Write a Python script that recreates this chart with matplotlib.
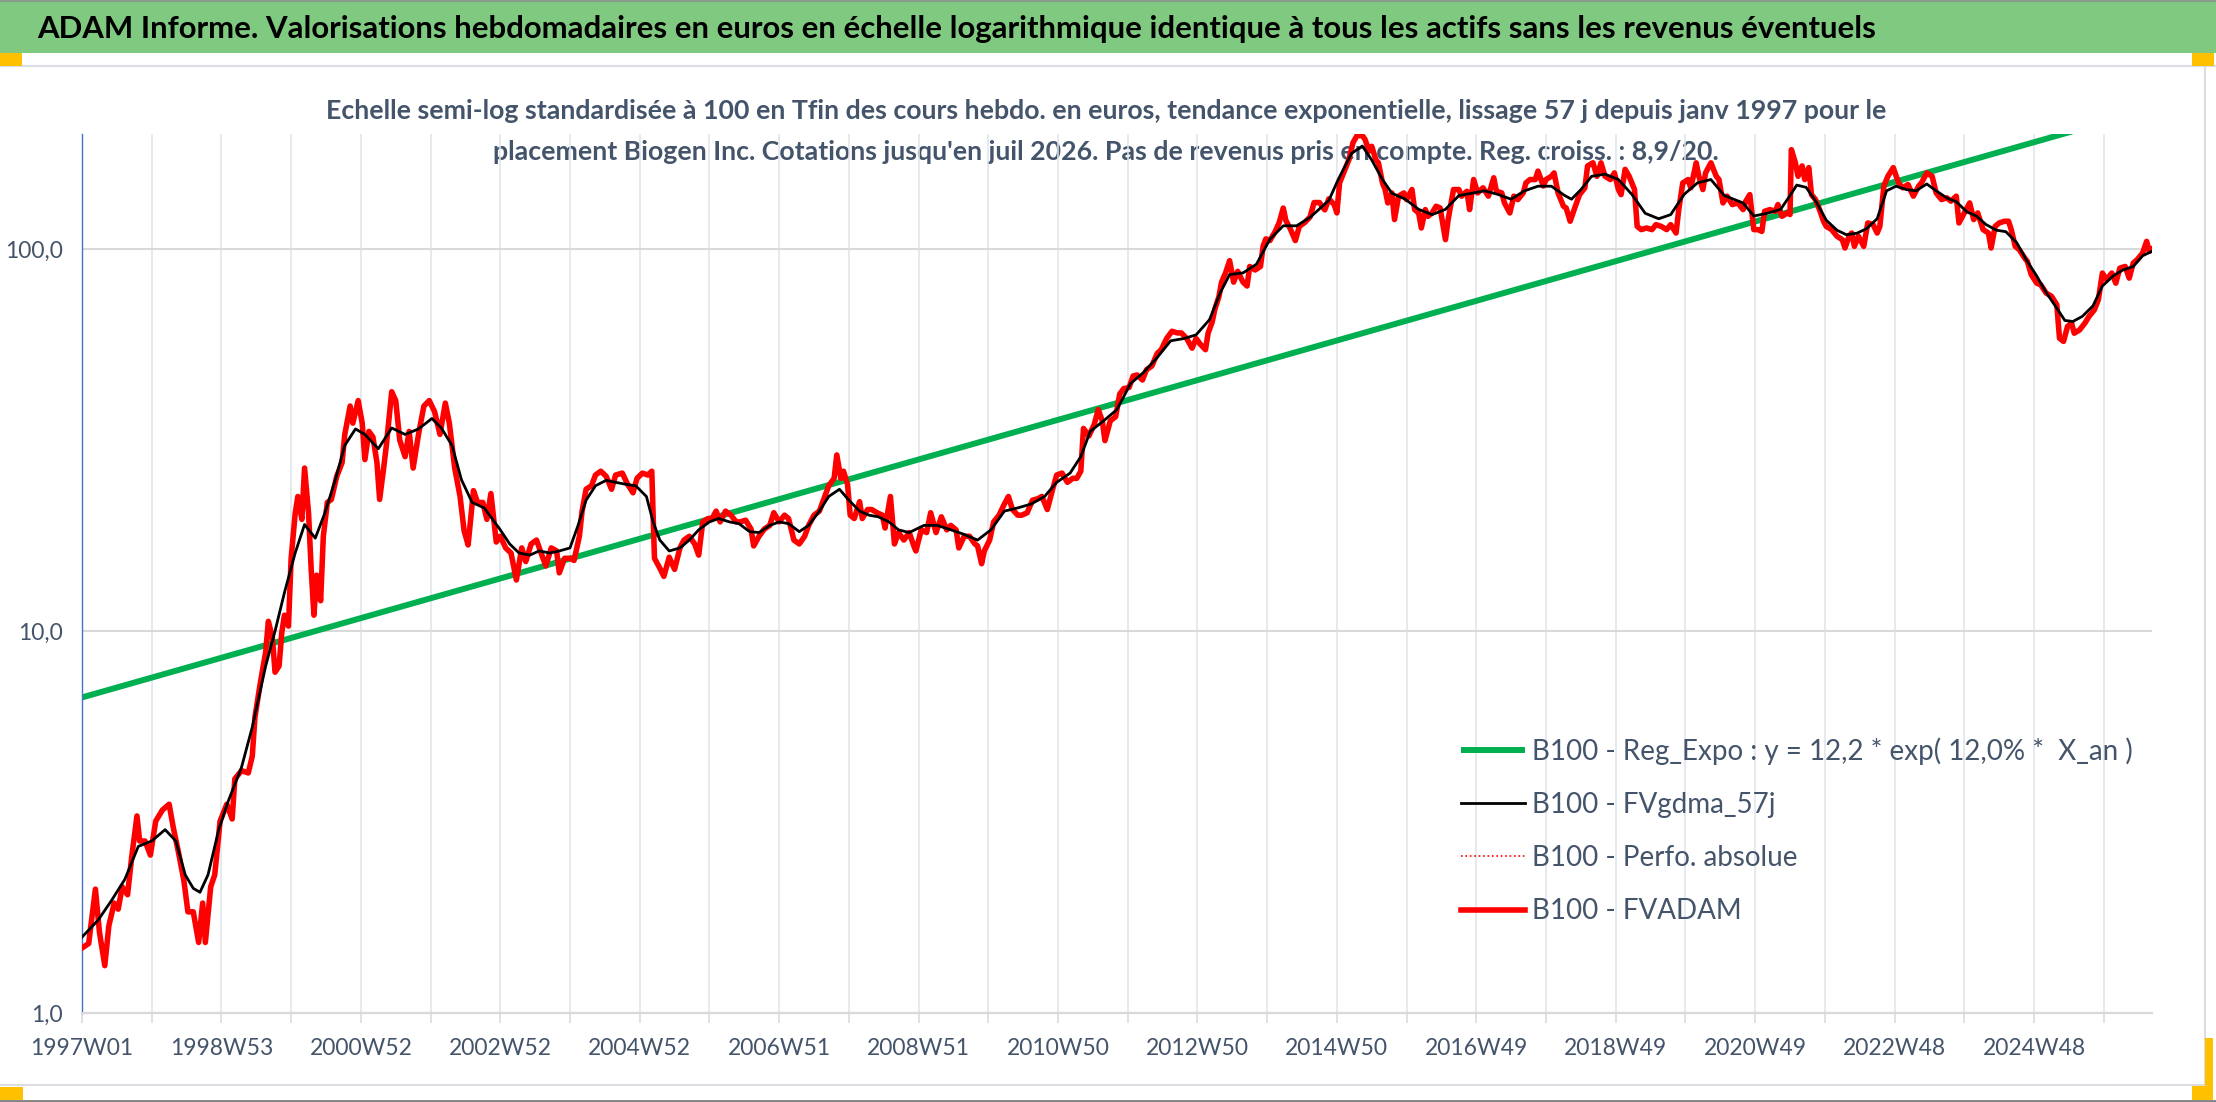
import matplotlib
matplotlib.use('Agg')
import matplotlib.pyplot as plt
from matplotlib.patches import Rectangle
from matplotlib.lines import Line2D

# --- CONFIGURATION ---
W, H = 2216, 1102
plt.rcParams['font.family'] = ['Lato', 'DejaVu Sans']

TITRE = ("ADAM Informe. Valorisations hebdomadaires en euros en échelle logarithmique "
         "identique à tous les actifs sans les revenus éventuels")
SOUS_TITRE_1 = ("Echelle semi-log standardisée à 100 en Tfin des cours hebdo. en euros, "
                "tendance exponentielle, lissage 57 j depuis janv 1997 pour le")
SOUS_TITRE_2 = ("placement Biogen Inc. Cotations jusqu'en juil 2026. Pas de revenus pris "
                "en compte. Reg. croiss. : 8,9/20.")

# --- DONNEES ---
# etiquettes de l'axe des categories (une toutes les 104 semaines)
etiquettes_x = ['1997W01', '1998W53', '2000W52', '2002W52', '2004W52', '2006W51',
                '2008W51', '2010W50', '2012W50', '2014W50', '2016W49', '2018W49',
                '2020W49', '2022W48', '2024W48']
ticks_y = [1, 10, 100]
etiquettes_y = ['1,0', '10,0', '100,0']

# B100 - FVADAM : index de semaine depuis 1997W01, valeur base 100
fv_sem = [0, 5, 10, 13, 17, 20, 24, 27, 30, 34, 37, 41, 43, 47, 51, 55, 60, 65, 68, 72,
          76, 79, 83, 87, 90, 92, 96, 99, 103, 108, 112, 114, 119, 124, 127, 129, 133, 137,
          139, 142, 144, 147, 149, 151, 154, 156, 159, 161, 164, 166, 169, 171, 173, 175,
          178, 180, 183, 186, 190, 194, 196, 200, 202, 206, 209, 211, 214, 217, 220, 222,
          225, 227, 231, 234, 237, 241, 244, 247, 251, 255, 259, 263, 267, 271, 274, 278,
          282, 285, 288, 292, 295, 299, 302, 305, 309,
          312, 316, 320, 324, 328, 331, 335, 339, 343, 346, 350, 354, 356, 360, 364, 367,
          371, 373, 376, 380, 383, 387, 391, 395, 398, 403, 407, 411, 414, 418, 422, 425,
          427, 431, 434, 438, 442, 446, 449, 453, 457, 460, 463, 467, 470, 473, 476, 480,
          484, 488, 491, 495, 499, 501, 505, 509, 513, 516, 520, 524, 527, 531, 535, 539,
          542, 546, 550, 553, 557, 561, 563, 566, 568, 571, 573, 576, 580, 582, 586, 589,
          593, 597, 599, 603, 606, 609, 613, 617, 621,
          622, 626, 630, 633, 637, 641, 645, 648, 652, 654, 658, 662, 666, 668, 671, 673,
          677, 680, 684, 688, 691, 694, 698, 701, 705, 709, 713, 716, 720, 724, 727, 731,
          735, 739, 742, 745, 747, 751, 755, 758, 761, 763, 767, 771, 774, 777, 781, 784,
          787, 791, 794, 798, 802, 805, 809, 813, 817, 820, 824, 828, 831, 834, 838, 840,
          843, 845, 848, 850, 853, 856, 859, 862, 866, 869, 871, 875, 879, 881, 883, 886,
          890, 893, 896, 898, 901, 905, 908, 912, 916, 919, 923, 927, 930,
          934, 936, 938, 941, 945, 948, 951, 955, 957, 960, 962, 965, 967, 970, 972, 974,
          977, 979, 982, 986, 988, 992, 994, 997, 999, 1002, 1004, 1007, 1010, 1013, 1017,
          1019, 1023, 1027, 1029, 1033, 1035, 1038, 1041, 1045, 1049, 1053, 1055, 1059,
          1061, 1065, 1068, 1071, 1075, 1077, 1080, 1084, 1086, 1090, 1092, 1096, 1098,
          1101, 1105, 1107, 1110, 1113, 1117, 1121, 1123, 1127, 1130, 1133, 1136, 1140,
          1143, 1146, 1148, 1151, 1154, 1158, 1160, 1163, 1167, 1171, 1174, 1178, 1182,
          1185, 1189, 1191, 1194, 1198, 1200, 1204, 1206, 1209, 1211, 1215, 1219, 1221,
          1224, 1227, 1231, 1235, 1239,
          1241, 1244, 1247, 1250, 1253, 1255, 1259, 1263, 1265, 1268, 1272, 1274, 1275,
          1278, 1280, 1283, 1285, 1288, 1290, 1293, 1296, 1299, 1301, 1305, 1309, 1313,
          1315, 1318, 1320, 1322, 1325, 1329, 1332, 1336, 1339, 1341, 1344, 1347, 1351,
          1355, 1358, 1362, 1366, 1370, 1372, 1376, 1380, 1383, 1387, 1391, 1394, 1398,
          1400, 1404, 1408, 1411, 1414, 1418, 1422, 1424, 1427, 1430, 1434, 1437, 1439,
          1442, 1445, 1449, 1451, 1454, 1458, 1461, 1465, 1469, 1473, 1475, 1478, 1481,
          1484, 1486, 1490, 1494, 1497, 1501, 1504, 1507, 1510, 1514, 1517, 1520, 1524,
          1527, 1530, 1533, 1537, 1540, 1542, 1544]
fv_val = [1.48, 1.52, 2.11, 1.63, 1.33, 1.69, 1.94, 1.87, 2.14, 2.04, 2.55, 3.28, 2.82, 2.82,
          2.59, 3.18, 3.40, 3.52, 3.07, 2.63, 2.22, 1.84, 1.84, 1.53, 1.94, 1.53, 2.14, 2.30,
          3.18, 3.52, 3.22, 4.10, 4.31, 4.25, 4.70, 5.95, 7.31, 8.81, 10.6, 9.6, 7.8, 8.1,
          9.9, 11.0, 10.3, 15.5, 20.3, 22.5, 19.6, 26.7, 20.3, 14.4, 11.0, 14.0, 12.0, 17.7,
          21.7, 22.1, 25.4, 27.6, 32.7, 38.8, 35.0, 40.1, 35.0, 28.1, 33.3, 32.2, 27.6, 22.1,
          26.7, 30.6, 42.3, 40.1, 31.6, 28.6, 33.3, 26.7, 32.7, 38.8, 40.1, 37.5, 32.7, 39.5,
          35.0, 26.7, 22.5, 18.3, 16.8, 23.3, 21.7, 21.7, 19.6, 22.9, 17.1,
          17.7, 16.5, 16.0, 13.6, 16.5, 15.2, 16.9, 17.3, 15.8, 14.8, 16.5, 16.2, 14.2, 15.5,
          15.5, 15.3, 17.7, 20.6, 23.5, 24.0, 25.6, 26.2, 25.4, 23.5, 25.6, 25.9, 24.2, 23.0,
          25.1, 25.9, 25.6, 26.2, 15.5, 14.6, 13.9, 15.6, 14.5, 16.5, 17.3, 17.7, 16.9, 15.8,
          19.3, 19.7, 19.7, 20.6, 19.3, 20.6, 20.1, 19.3, 19.3, 19.5, 18.5, 16.7, 17.7, 18.5,
          18.9, 20.4, 19.3, 20.1, 19.7, 17.3, 16.9, 17.7, 18.9, 20.1, 20.6, 22.0, 24.0, 25.1,
          28.9, 25.1, 26.2, 24.2, 20.1, 19.7, 21.8, 19.7, 20.8, 20.8, 20.4, 20.1, 18.6, 22.5,
          16.9, 18.1, 17.3, 18.1, 16.5,
          16.2, 18.4, 18.1, 20.4, 18.1, 19.9, 18.4, 18.9, 18.4, 16.5, 17.7, 17.7, 16.9, 16.7,
          15.0, 16.2, 17.3, 19.3, 20.1, 21.5, 22.5, 20.8, 20.1, 20.1, 20.4, 22.0, 22.2, 22.5,
          20.8, 23.5, 25.6, 25.9, 24.5, 25.1, 25.1, 26.2, 33.9, 32.4, 34.7, 38.0, 35.5, 31.5,
          35.5, 36.4, 41.7, 43.1, 43.4, 46.5, 46.8, 45.4, 48.3, 49.4, 53.3, 54.5, 58.3, 60.9,
          60.3, 60.3, 58.3, 55.0, 58.3, 56.4, 54.5, 60.3, 64.4, 69.6, 75.0, 81.9, 86.6, 93.2,
          81.9, 87.4, 81.9, 80.0, 90.0, 88.1, 90.0, 101.8, 106.3, 105.2, 111.1, 117.3, 128.0,
          118.6, 113.5, 105.2, 114.6, 117.3, 121.3, 132.3, 132.3, 126.6, 135.3,
          130.7, 124.3, 148.9, 158.2, 171.4, 189.7, 198.0, 198.0, 193.6, 180.3, 185.7, 171.4,
          168.1, 148.9, 143.1, 132.0, 140.2, 119.4, 137.5, 140.2, 134.7, 143.1, 126.8, 124.3,
          113.5, 126.8, 121.8, 124.3, 129.4, 128.1, 105.8, 119.4, 143.1, 143.1, 137.5, 141.6,
          126.8, 152.0, 140.2, 144.6, 137.5, 153.6, 141.6, 140.2, 132.0, 124.3, 137.5, 134.7,
          140.2, 148.9, 152.0, 152.0, 159.9, 146.2, 152.0, 155.0, 158.2, 140.2, 129.4, 128.1,
          118.2, 126.8, 138.8, 144.6, 165.0, 168.1, 155.0, 168.1, 155.0, 152.0, 158.2, 143.1,
          138.8, 161.6, 155.0, 143.1, 114.6, 112.4, 113.5, 112.4, 115.8, 114.6, 112.4, 115.8,
          110.1, 126.8, 148.9, 152.0, 144.6, 168.1, 155.0, 143.1, 158.2, 168.1, 155.0, 152.0,
          132.0, 137.5, 130.7, 132.0, 126.8,
          133.4, 138.8, 112.4, 112.4, 111.2, 125.5, 126.8, 125.5, 130.7, 121.8, 124.3, 123.1,
          182.0, 168.1, 155.0, 165.0, 152.0, 163.3, 138.8, 134.7, 126.8, 118.2, 114.6, 112.4,
          108.0, 105.8, 100.6, 108.0, 110.1, 101.6, 108.0, 101.6, 117.0, 115.8, 110.1, 114.6,
          146.2, 155.0, 163.3, 148.9, 144.6, 147.5, 137.5, 146.2, 148.9, 158.2, 155.0, 140.2,
          134.7, 136.1, 133.4, 137.5, 117.0, 124.3, 132.0, 119.4, 124.3, 112.4, 110.1, 100.6,
          114.6, 117.0, 118.2, 118.2, 112.4, 101.6, 99.6, 94.7, 92.8, 85.6, 81.4, 80.6, 76.7,
          75.2, 71.5, 58.4, 57.3, 62.7, 64.0, 60.2, 61.4, 64.0, 66.6, 69.3, 73.7, 86.5, 83.1,
          86.5, 81.4, 89.1, 90.0, 83.9, 91.9, 93.8, 97.6, 104.7, 98.6, 100.0]

# B100 - FVgdma_57j : courbe lissee
gd_sem = [0, 12, 22, 32, 42, 52, 62, 70, 77, 83, 88, 94, 102, 109, 119, 127, 137, 144, 151,
          159, 166, 174, 181, 189, 196, 204, 211, 221, 231, 241, 251, 261, 268, 276, 283,
          291, 300, 312, 319, 326, 334, 341, 349, 356, 364, 370, 376, 383, 391, 398, 406,
          413, 421, 426, 431, 438, 446, 453, 460, 468, 475, 483, 490, 498, 505, 513, 520,
          527, 535, 542, 550, 557, 565, 572, 580, 587, 594, 602, 609, 617, 628, 638, 648,
          658, 668, 678, 688, 698, 708, 718, 727, 737, 745, 752, 762, 772, 782, 792, 802,
          812, 822, 831, 841, 849, 856, 866, 876, 886, 896, 906, 916, 930, 937, 947, 955,
          962, 970, 977, 987, 997, 1007, 1017, 1027, 1037, 1046, 1056, 1066, 1076, 1086,
          1096, 1106, 1111, 1118, 1126, 1136, 1146, 1156, 1166, 1176, 1185, 1195, 1205,
          1215, 1225, 1239, 1247, 1257, 1267, 1274, 1279, 1286, 1294, 1301, 1309, 1316,
          1324, 1331, 1339, 1346, 1353, 1361, 1368, 1376, 1383, 1391, 1398, 1406, 1413,
          1420, 1428, 1435, 1443, 1450, 1458, 1465, 1473, 1479, 1485, 1492, 1500, 1507,
          1515, 1522, 1530, 1537, 1544]
gd_val = [1.58, 1.75, 1.97, 2.24, 2.73, 2.82, 3.02, 2.82, 2.30, 2.12, 2.07, 2.30, 3.02, 3.58,
          4.4, 5.6, 8.1, 10.0, 12.6, 16.0, 19.0, 17.5, 20.3, 24.9, 30.6, 33.8, 32.7, 30.0,
          34.0, 32.7, 33.8, 36.0, 34.0, 30.6, 24.9, 21.7, 21.0, 18.4, 16.9, 16.0, 15.8, 16.2,
          16.0, 16.2, 16.5, 18.9, 22.0, 24.0, 24.8, 24.5, 24.2, 24.0, 22.5, 19.3, 17.3, 16.2,
          16.5, 17.3, 18.4, 19.3, 19.7, 19.3, 19.1, 18.2, 18.1, 18.9, 19.3, 19.1, 18.2, 18.9,
          20.6, 22.5, 23.5, 22.0, 20.6, 20.1, 19.9, 19.3, 18.4, 18.1, 18.9, 18.9, 18.4, 17.9,
          17.3, 18.4, 20.6, 21.0, 21.5, 22.5, 24.5, 25.9, 28.6, 33.3, 35.5, 38.0, 44.4, 47.6,
          52.0, 57.5, 58.3, 59.6, 65.3, 76.8, 85.7, 86.6, 91.2, 106.0, 115.0, 115.0, 121.0,
          134.0, 152.0, 178.0, 186.0, 171.0, 152.0, 140.0, 135.0, 127.0, 123.0, 127.0, 138.0,
          140.0, 142.0, 139.0, 135.0, 142.0, 146.0, 146.0, 138.0, 135.0, 143.0, 155.0, 157.0,
          152.0, 139.0, 124.0, 120.0, 123.0, 139.0, 149.0, 152.0, 138.0, 132.0, 122.0, 124.0,
          127.0, 138.0, 147.0, 145.0, 132.0, 119.0, 112.0, 109.0, 110.0, 113.0, 120.0, 142.0,
          146.0, 143.0, 142.0, 148.0, 142.0, 136.0, 133.0, 125.0, 122.0, 116.0, 112.0, 111.0,
          104.0, 94.0, 85.0, 77.0, 70.0, 65.0, 64.6, 66.6, 71.0, 80.0, 85.0, 88.0, 90.0,
          96.0, 98.6]

# B100 - Reg_Expo : valeurs de la tendance au debut et a la fin
reg_sem = [0, 1544]
reg_val = [6.7, 233.0]

LABELS = ['B100 - Reg_Expo : y = 12,2 * exp( 12,0% *  X_an )',
          'B100 - FVgdma_57j',
          'B100 - Perfo. absolue',
          'B100 - FVADAM']

GRIS_TEXTE = '#44546A'

# --- FIGURE ---
fig = plt.figure(figsize=(W / 100, H / 100), dpi=100)
fig.patch.set_facecolor('white')

def px_rect(x0, y0, w, h, couleur, z):
    # rectangle en pixels (origine en haut a gauche)
    fig.patches.append(Rectangle((x0 / W, 1 - (y0 + h) / H), w / W, h / H,
                                 transform=fig.transFigure, facecolor=couleur,
                                 edgecolor='none', zorder=z))

# bandeau vert du titre
px_rect(0, 0, W, 53, '#80C980', -5)
fig.add_artist(Line2D([0, 1], [1 - 1 / H, 1 - 1 / H], color='#8a9a8a', lw=1.5, zorder=-4))
# cadre de la zone graphique
fig.add_artist(Line2D([0, 1], [1 - 66 / H, 1 - 66 / H], color='#DADDE2', lw=1.5, zorder=-4))
fig.add_artist(Line2D([0, 2205 / W], [1 - 1085 / H, 1 - 1085 / H], color='#DADDE2', lw=1.5, zorder=-4))
fig.add_artist(Line2D([2205 / W, 2205 / W], [1 - 1085 / H, 1 - 66 / H], color='#DADDE2', lw=1.5, zorder=-4))
fig.add_artist(Line2D([0, 1], [1.5 / H, 1.5 / H], color='#808080', lw=2, zorder=-2))
# poignees orange
px_rect(0, 53, 22, 13, '#FFC000', -3)
px_rect(2192, 53, 22, 13, '#FFC000', -3)
px_rect(0, 1087, 23, 13, '#FFC000', -3)
px_rect(2192, 1086, 21, 14, '#FFC000', -3)
px_rect(2205, 1038, 8, 62, '#FFC000', -3)

fig.text(957 / W, 1 - 29 / H, TITRE, ha='center', va='center', fontsize=22.4,
         fontweight='bold', color='black', zorder=-1)
fig.text(1106 / W, 1 - 111 / H, SOUS_TITRE_1, ha='center', va='center', fontsize=19.3,
         fontweight='bold', color=GRIS_TEXTE, zorder=-1)
fig.text(1106 / W, 1 - 152 / H, SOUS_TITRE_2, ha='center', va='center', fontsize=19.3,
         fontweight='bold', color=GRIS_TEXTE, zorder=-1)

ax = fig.add_axes([82 / W, 1 - 1013 / H, (2152 - 82) / W, (1013 - 134) / H])
ax.set_facecolor('none')

l_reg, = ax.plot(reg_sem, reg_val, color='#00B050', lw=4.3, solid_capstyle='butt', zorder=2)
l_perf, = ax.plot(fv_sem, fv_val, color='#FF0000', lw=1.2, ls=':', zorder=2.5)
l_fv, = ax.plot(fv_sem, fv_val, color='#FF0000', lw=4.0, zorder=3)
l_gd, = ax.plot(gd_sem, gd_val, color='black', lw=2.0, zorder=4)

ax.set_yscale('log')
ax.set_ylim(1, 200)
ax.set_xlim(0, fv_sem[-1])
ax.set_yticks(ticks_y)
ax.set_yticklabels(etiquettes_y)
ax.yaxis.set_minor_locator(matplotlib.ticker.NullLocator())

pos_x = list(range(0, fv_sem[-1] + 1, 52))
ax.set_xticks(pos_x)
ax.set_xticklabels([etiquettes_x[i // 2] if i % 2 == 0 else '' for i in range(len(pos_x))])

ax.tick_params(axis='x', length=7, width=1.1, color='#D9D9D9', pad=11, labelsize=16.5,
               labelcolor=GRIS_TEXTE)
ax.tick_params(axis='y', length=0, pad=14, labelsize=16.5, labelcolor=GRIS_TEXTE)
ax.grid(axis='x', color='#DFE4EB', lw=1.1, zorder=0)
ax.grid(axis='y', color='#D9D9D9', lw=1.5, zorder=0)

for cote in ['top', 'right']:
    ax.spines[cote].set_visible(False)
ax.spines['left'].set_color('#4472C4')
ax.spines['left'].set_linewidth(1.0)
ax.spines['bottom'].set_color('#D9D9D9')
ax.spines['bottom'].set_linewidth(1.6)

leg = ax.legend([l_reg, l_gd, l_perf, l_fv], LABELS, loc='upper left',
                bbox_to_anchor=(1461 / W, 1 - 737 / H), bbox_transform=fig.transFigure,
                frameon=False, fontsize=20, handlelength=2.3, handletextpad=0.25,
                labelspacing=0.98, borderpad=0, borderaxespad=0)
for t in leg.get_texts():
    t.set_color(GRIS_TEXTE)

fig.savefig('out.png', dpi=100)
